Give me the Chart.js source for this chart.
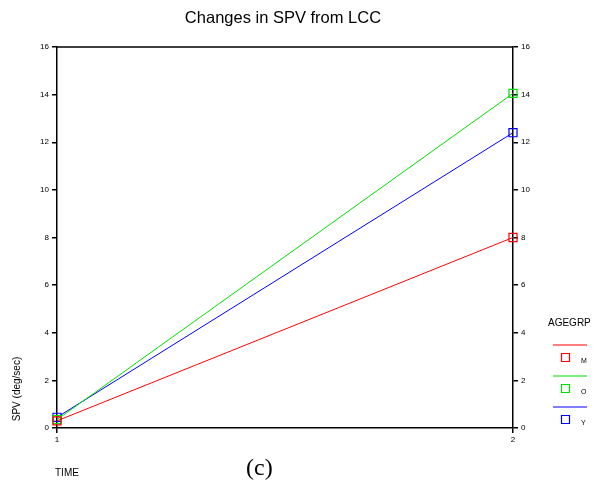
<!DOCTYPE html>
<html>
<head>
<meta charset="utf-8">
<script src="https://cdn.jsdelivr.net/npm/chart.js@4"></script>
<style>
  html, body { margin: 0; padding: 0; background: #fff; }
  #wrap { width: 599px; height: 482px; position: relative; }
</style>
</head>
<body>
<div id="wrap"><canvas id="chart" width="599" height="482"></canvas></div>
<script>
// ==== Data ====
const times = [1, 2];
const groups = ['M', 'O', 'Y'];
const colors = ['#ff0000', '#00e000', '#0000ff'];
const spvM = [0.3, 8.0];
const spvO = [0.35, 14.05];
const spvY = [0.45, 12.4];
const yTicks = [0, 2, 4, 6, 8, 10, 12, 14, 16];

const series = [spvM, spvO, spvY];
const tickFont = { family: 'Liberation Sans, Arial', size: 8 };

// ==== Extra text + legend + top border ====
const decor = {
  id: 'decor',
  afterDraw(chart) {
    const { ctx, chartArea: a } = chart;
    ctx.save();
    // top border of the frame
    ctx.strokeStyle = '#000'; ctx.lineWidth = 1.5;
    ctx.beginPath(); ctx.moveTo(a.left, a.top); ctx.lineTo(a.right, a.top); ctx.stroke();

    ctx.fillStyle = '#000';
    ctx.textAlign = 'center'; ctx.textBaseline = 'middle';
    ctx.font = '16.5px Liberation Sans, Arial';
    ctx.fillText('Changes in SPV from LCC', 283, 18);

    ctx.textAlign = 'left';
    ctx.font = '10px Liberation Sans, Arial';
    ctx.fillText('TIME', 55, 473);

    ctx.font = '24px Liberation Serif, Times New Roman';
    ctx.fillText('(c)', 246, 469);

    ctx.save();
    ctx.translate(17, 389); ctx.rotate(-Math.PI / 2);
    ctx.textAlign = 'center';
    ctx.font = '10px Liberation Sans, Arial';
    ctx.fillText('SPV (deg/sec)', 0, 0);
    ctx.restore();

    // legend
    ctx.font = '10px Liberation Sans, Arial';
    ctx.fillText('AGEGRP', 548, 323);
    chart.data.datasets.forEach((ds, i) => {
      const y0 = 345 + i * 31;
      ctx.strokeStyle = colors[i]; ctx.lineWidth = 1.2;
      ctx.beginPath(); ctx.moveTo(553, y0); ctx.lineTo(587, y0); ctx.stroke();
      ctx.strokeStyle = colors[i];
      ctx.beginPath(); ctx.rect(561.5, y0 + 8.5, 8, 8); ctx.stroke();
      ctx.fillStyle = '#000';
      ctx.font = '7px Liberation Sans, Arial';
      ctx.fillText(ds.label, 581, y0 + 16);
    });
    ctx.restore();
  }
};

new Chart(document.getElementById('chart'), {
  type: 'line',
  data: {
    datasets: groups.map((g, i) => ({
      label: g,
      data: times.map((t, j) => ({ x: t, y: series[i][j] })),
      borderColor: colors[i],
      backgroundColor: 'transparent',
      borderWidth: 1,
      pointStyle: 'rect',
      pointRadius: 5.7,
      pointBackgroundColor: 'transparent',
      pointBorderColor: colors[i],
      pointBorderWidth: 1.2,
      clip: false,
      tension: 0
    }))
  },
  options: {
    responsive: false,
    animation: false,
    layout: { padding: { top: 47, left: 0, right: 0, bottom: 0 } },
    plugins: { legend: { display: false }, title: { display: false }, tooltip: { enabled: false } },
    scales: {
      x: {
        type: 'linear', min: 1, max: 2,
        afterFit: s => { s.height = 54; },
        afterBuildTicks: s => { s.ticks = times.map(v => ({ value: v })); },
        ticks: { color: '#000', font: tickFont, padding: 2, maxRotation: 0 },
        grid: { drawOnChartArea: false, drawTicks: true, tickLength: 5, color: '#000', lineWidth: 1.5 },
        border: { color: '#000', width: 1.5 }
      },
      y: {
        position: 'left', min: 0, max: 16,
        afterFit: s => { s.width = 57; },
        afterBuildTicks: s => { s.ticks = yTicks.map(v => ({ value: v })); },
        ticks: { color: '#000', font: tickFont, padding: 3 },
        grid: { drawOnChartArea: false, drawTicks: true, tickLength: 5, color: '#000', lineWidth: 1.5 },
        border: { color: '#000', width: 1.5 }
      },
      y2: {
        position: 'right', min: 0, max: 16,
        afterFit: s => { s.width = 86; },
        afterBuildTicks: s => { s.ticks = yTicks.map(v => ({ value: v })); },
        ticks: { color: '#000', font: tickFont, padding: 3 },
        grid: { drawOnChartArea: false, drawTicks: true, tickLength: 5, color: '#000', lineWidth: 1.5 },
        border: { color: '#000', width: 1.5 }
      }
    }
  },
  plugins: [decor]
});
</script>
</body>
</html>
